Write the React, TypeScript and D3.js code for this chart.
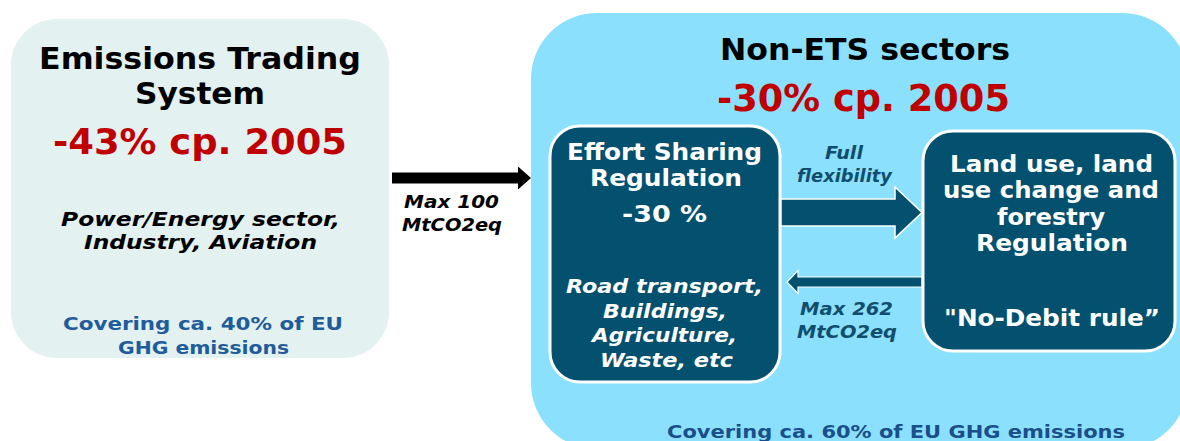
import React from "react";
import * as d3 from "d3";

const etsTitle = ["Emissions Trading", "System"];
const etsTarget = "-43% cp. 2005";
const etsSectors = ["Power/Energy sector,", "Industry, Aviation"];
const etsCoverage = ["Covering ca. 40% of EU", "GHG emissions"];
const transferEts = ["Max 100", "MtCO2eq"];
const nonEtsTitle = "Non-ETS sectors";
const nonEtsTarget = "-30% cp. 2005";
const esrTitle = ["Effort Sharing", "Regulation"];
const esrTarget = "-30 %";
const esrSectors = ["Road transport,", "Buildings,", "Agriculture,", "Waste, etc"];
const flexLabel = ["Full", "flexibility"];
const lulucfTitle = ["Land use, land", "use change and", "forestry", "Regulation"];
const lulucfRule = "\"No-Debit rule\u201D";
const transferLulucf = ["Max 262", "MtCO2eq"];
const nonEtsCoverage = "Covering ca. 60% of EU GHG emissions";

const FONT = "'DejaVu Sans', Verdana, sans-serif";
const FONT_C = "'DejaVu Sans Condensed', 'DejaVu Sans', sans-serif";
const DARK = "#03506f";
const RED = "#c00000";

type L = { t: string; x1: number; x2: number; y: number };

function T({ l, size, fill, italic, font }: { l: L; size: number; fill: string; italic?: boolean; font?: string }) {
  return (
    <text
      x={(l.x1 + l.x2) / 2}
      y={l.y}
      textAnchor="middle"
      fontFamily={font || FONT}
      fontWeight="bold"
      fontStyle={italic ? "italic" : "normal"}
      fontSize={size}
      fill={fill}
      textLength={l.x2 - l.x1}
      lengthAdjust="spacingAndGlyphs"
    >
      {l.t}
    </text>
  );
}

function arrowPath(x0: number, x1: number, yc: number, shaftH: number, headH: number, headL: number) {
  const p = d3.path();
  const dir = x1 > x0 ? 1 : -1;
  const xh = x1 - dir * headL;
  p.moveTo(x0, yc - shaftH / 2);
  p.lineTo(xh, yc - shaftH / 2);
  p.lineTo(xh, yc - headH / 2);
  p.lineTo(x1, yc);
  p.lineTo(xh, yc + headH / 2);
  p.lineTo(xh, yc + shaftH / 2);
  p.lineTo(x0, yc + shaftH / 2);
  p.closePath();
  return p.toString();
}

export default function App() {
  return (
    <svg width={1180} height={441} style={{ position: "absolute", left: 0, top: 0, background: "#fff" }}>
      {/* ETS box */}
      <rect x={11} y={19} width={378} height={339} rx={46} fill="#e3f1f1" />
      <T l={{ t: etsTitle[0], x1: 39, x2: 361, y: 69 }} size={31} fill="#000" />
      <T l={{ t: etsTitle[1], x1: 135, x2: 265, y: 104 }} size={31} fill="#000" />
      <T l={{ t: etsTarget, x1: 53, x2: 347, y: 154 }} size={36} fill={RED} />
      <T l={{ t: etsSectors[0], x1: 61, x2: 340, y: 226 }} size={19} fill="#000" italic />
      <T l={{ t: etsSectors[1], x1: 84, x2: 317, y: 249 }} size={19} fill="#000" italic />
      <T l={{ t: etsCoverage[0], x1: 63, x2: 343, y: 330 }} size={17} fill="#1f5c99" />
      <T l={{ t: etsCoverage[1], x1: 118, x2: 289, y: 354 }} size={17} fill="#1f5c99" />

      {/* ETS -> non-ETS arrow */}
      <path d={arrowPath(392, 531, 178, 11, 23, 13)} fill="#000" />
      <T l={{ t: transferEts[0], x1: 404, x2: 499, y: 208 }} size={17} fill="#000" italic />
      <T l={{ t: transferEts[1], x1: 402, x2: 502, y: 231 }} size={17} fill="#000" italic />

      {/* Non-ETS box */}
      <rect x={531} y={13} width={657} height={436} rx={66} fill="#8be1fd" />
      <T l={{ t: nonEtsTitle, x1: 720, x2: 1010, y: 60 }} size={31} fill="#000" font={FONT_C} />
      <T l={{ t: nonEtsTarget, x1: 717, x2: 1010, y: 111 }} size={37} fill={RED} font={FONT_C} />

      {/* ESR box */}
      <rect x={550} y={126} width={230} height={256} rx={30} fill={DARK} stroke="#fff" strokeWidth={3} />
      <T l={{ t: esrTitle[0], x1: 567, x2: 762, y: 160 }} size={23} fill="#fff" />
      <T l={{ t: esrTitle[1], x1: 590, x2: 742, y: 186 }} size={23} fill="#fff" />
      <T l={{ t: esrTarget, x1: 622, x2: 707, y: 222 }} size={23} fill="#fff" />
      {esrSectors.map((s, i) => {
        const ext = [[566, 763], [603, 727], [592, 737], [600, 733]][i];
        return <T key={s} l={{ t: s, x1: ext[0], x2: ext[1], y: 293 + i * 24.5 }} size={20} fill="#fff" italic />;
      })}

      {/* Flexibility arrow */}
      <path d={arrowPath(781, 922, 212.5, 27, 51, 27)} fill={DARK} stroke="#fff" strokeWidth={1.5} />
      <T l={{ t: flexLabel[0], x1: 825, x2: 863, y: 159 }} size={17} fill="#114e6e" italic />
      <T l={{ t: flexLabel[1], x1: 797, x2: 892, y: 182 }} size={17} fill="#114e6e" italic />

      {/* Return arrow */}
      <path d={arrowPath(922, 787, 282, 10, 23, 11)} fill={DARK} stroke="#fff" strokeWidth={1.2} />
      <T l={{ t: transferLulucf[0], x1: 800, x2: 893, y: 315 }} size={17} fill="#114e6e" italic />
      <T l={{ t: transferLulucf[1], x1: 797, x2: 897, y: 338 }} size={17} fill="#114e6e" italic />

      {/* LULUCF box */}
      <rect x={923} y={131} width={252} height={220} rx={30} fill={DARK} stroke="#fff" strokeWidth={3} />
      {lulucfTitle.map((s, i) => {
        const ext = [[950, 1153], [943, 1159], [997, 1105], [976, 1128]][i];
        return <T key={s} l={{ t: s, x1: ext[0], x2: ext[1], y: 172 + i * 26.3 }} size={23} fill="#fff" />;
      })}
      <T l={{ t: lulucfRule, x1: 944, x2: 1160, y: 326 }} size={23} fill="#fff" />

      <T l={{ t: nonEtsCoverage, x1: 667, x2: 1125, y: 438 }} size={18} fill="#1a4f8b" />
    </svg>
  );
}
